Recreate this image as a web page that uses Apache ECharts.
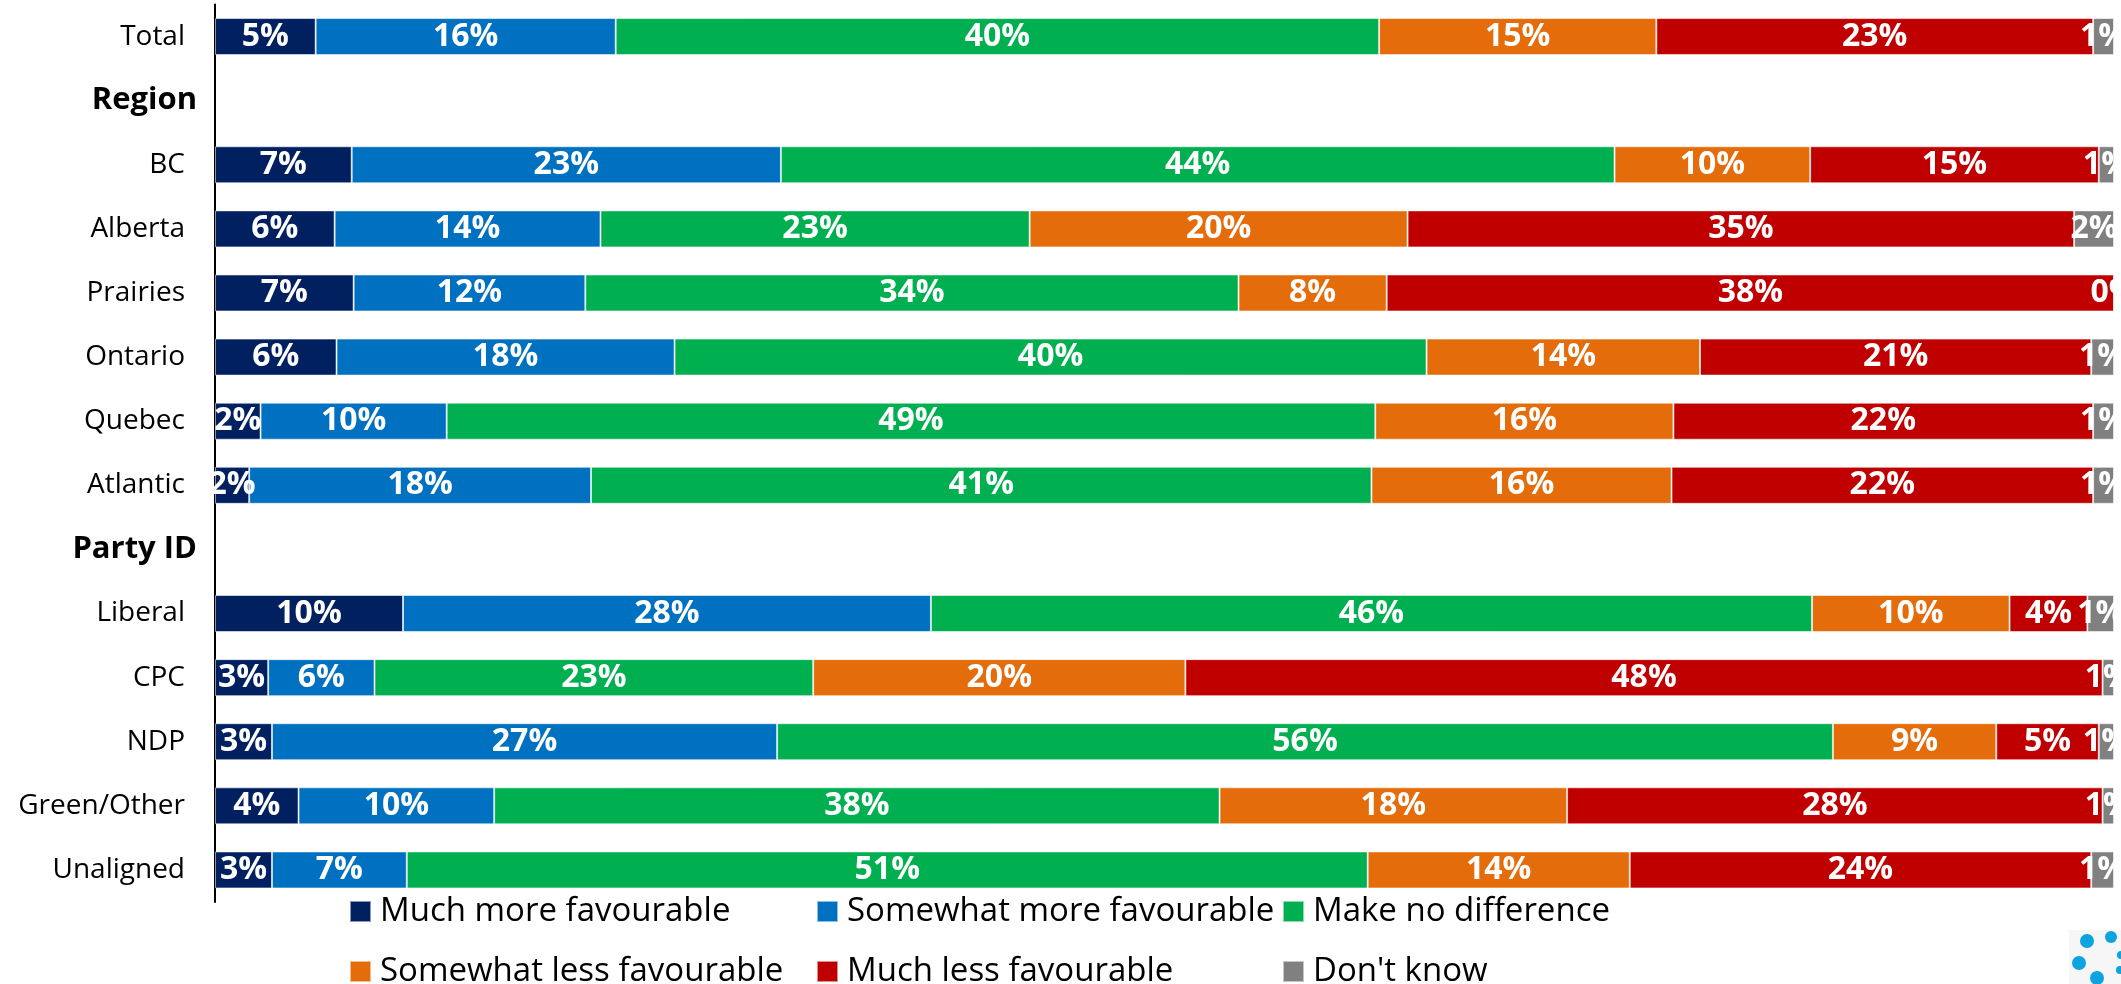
<!DOCTYPE html>
<html>
<head>
<meta charset="utf-8">
<script src="https://cdn.jsdelivr.net/npm/echarts@6/dist/echarts.min.js"></script>
<style>
html,body{margin:0;padding:0;background:#fff;}
#chart{width:2121px;height:984px;}
</style>
</head>
<body>
<div id="chart"></div>
<script>
// Categories (top to bottom); header rows have no bars
const categories = ['Total','Region','BC','Alberta','Prairies','Ontario','Quebec','Atlantic','Party ID','Liberal','CPC','NDP','Green/Other','Unaligned'];
const headers = ['Region','Party ID'];

const seriesNames = ['Much more favourable','Somewhat more favourable','Make no difference','Somewhat less favourable','Much less favourable',"Don't know"];
const seriesColors = ['#002060','#0070C0','#00B050','#E46C0A','#C00000','#808080'];

const muchMore     = [5.3,'-',7.2,6.3,7.3,6.4,2.4,1.8,'-',9.9,2.8,3.0,4.4,3.0];
const somewhatMore = [15.8,'-',22.6,14.0,12.2,17.8,9.8,18.0,'-',27.8,5.6,26.6,10.3,7.1];
const noDiff       = [40.2,'-',43.9,22.6,34.4,39.6,48.9,41.1,'-',46.4,23.1,55.6,38.2,50.6];
const somewhatLess = [14.6,'-',10.3,19.9,7.8,14.4,15.7,15.8,'-',10.4,19.6,8.6,18.3,13.8];
const muchLess     = [23.0,'-',15.2,35.1,38.3,20.6,22.1,22.2,'-',4.1,48.3,5.4,28.2,24.3];
const dontKnow     = [1.1,'-',0.8,2.1,0,1.2,1.1,1.1,'-',1.4,0.6,0.8,0.6,1.2];

const allValues = [muchMore, somewhatMore, noDiff, somewhatLess, muchLess, dontKnow];

const FONT = "'Open Sans', 'Noto Sans', sans-serif";

const chart = echarts.init(document.getElementById('chart'), null, {renderer:'canvas'});

const series = seriesNames.map((name, i) => ({
  name: name,
  type: 'bar',
  stack: 'all',
  barWidth: 37,
  data: allValues[i],
  itemStyle: { color: seriesColors[i], borderColor: 'rgba(255,255,255,0.55)', borderWidth: 1 },
  label: {
    show: true,
    position: 'inside',
    color: '#fff',
    fontFamily: FONT,
    fontWeight: 'bold',
    fontSize: 32,
    formatter: p => Math.round(p.value) + '%'
  },
  emphasis: { disabled: true },
  animation: false
}));

// legend layout: 3 columns x 2 rows
const legendX = [349, 816, 1282];
const legendY = [911.5, 971.5];
const legends = seriesNames.map((name, i) => ({
  data: [name],
  left: legendX[i % 3],
  top: legendY[Math.floor(i / 3)] - 20,
  padding: 0,
  icon: 'rect',
  itemWidth: 21,
  itemHeight: 21,
  selectedMode: false,
  textStyle: { fontFamily: FONT, fontSize: 33, color: '#000', lineHeight: 40, padding: [0,0,0,4] }
}));

const option = {
  backgroundColor: '#fff',
  animation: false,
  grid: { left: 215, right: 7, top: 4.5, bottom: 984 - 902, containLabel: false },
  xAxis: {
    type: 'value', min: 0, max: 100,
    show: false
  },
  yAxis: {
    type: 'category',
    data: categories,
    inverse: true,
    axisLine: { show: true, lineStyle: { color: '#000', width: 2 } },
    axisTick: { show: false },
    splitLine: { show: false },
    axisLabel: {
      margin: 18,
      formatter: v => headers.includes(v) ? '{h|' + v + '}' : '{n|' + v + '}',
      rich: {
        n: { fontFamily: FONT, fontSize: 28, color: '#000', padding: [0, 12, 0, 0] },
        h: { fontFamily: FONT, fontSize: 31, fontWeight: 'bold', color: '#000' }
      }
    }
  },
  legend: legends,
  series: series,
  graphic: [
    { type: 'rect', shape: { x: 2069, y: 930, width: 52, height: 54 }, style: { fill: '#f6f6f6' }, silent: true },
    { type: 'circle', shape: { cx: 2087, cy: 941, r: 7 }, style: { fill: '#0ba3e0' }, silent: true },
    { type: 'circle', shape: { cx: 2111, cy: 937, r: 6 }, style: { fill: '#0ba3e0' }, silent: true },
    { type: 'circle', shape: { cx: 2079, cy: 963, r: 7 }, style: { fill: '#0ba3e0' }, silent: true },
    { type: 'circle', shape: { cx: 2097, cy: 978, r: 7 }, style: { fill: '#0ba3e0' }, silent: true },
    { type: 'circle', shape: { cx: 2121, cy: 955, r: 4 }, style: { fill: '#0ba3e0' }, silent: true },
    { type: 'circle', shape: { cx: 2120, cy: 970, r: 4 }, style: { fill: '#0ba3e0' }, silent: true }
  ]
};

chart.setOption(option);
</script>
</body>
</html>
